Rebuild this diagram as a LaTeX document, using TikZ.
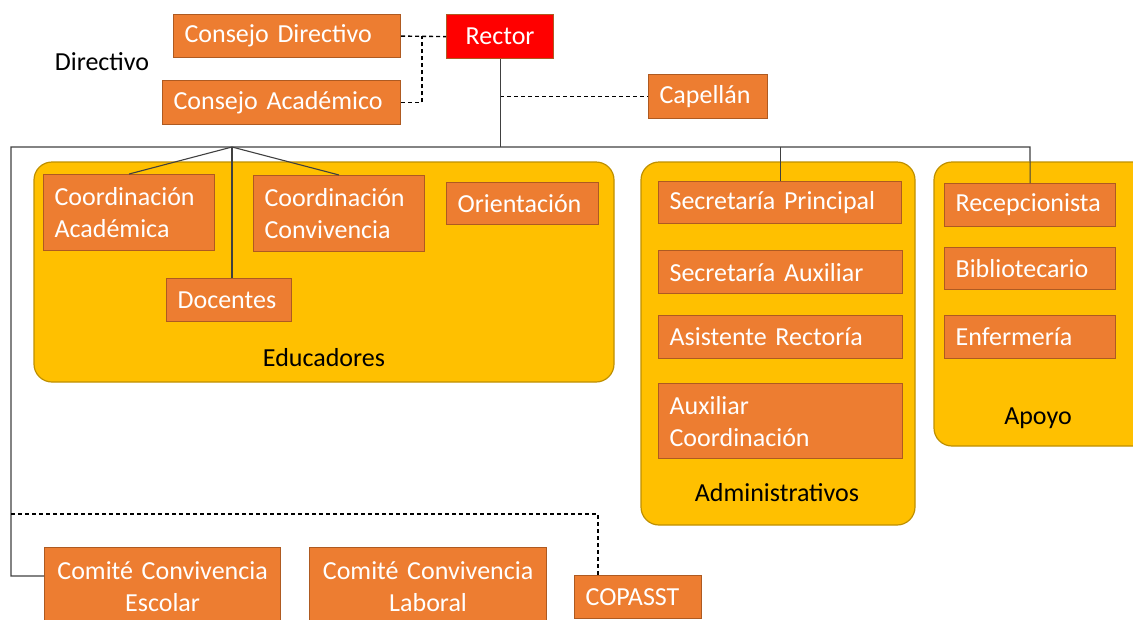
\documentclass[tikz,border=0pt]{standalone}
\usepackage{fontspec}
\setmainfont{Carlito}
\usetikzlibrary{positioning}
\definecolor{unitfill}{HTML}{ED7D31}
\definecolor{unitedge}{HTML}{AE5A21}
\definecolor{groupfill}{HTML}{FFC000}
\definecolor{groupedge}{HTML}{BF9000}
\definecolor{rectorfill}{HTML}{FF0000}
\definecolor{treeline}{HTML}{404040}

\begin{document}
\begin{tikzpicture}[x=1pt, y=-1pt,
    every node/.style={font=\fontsize{26}{32}\selectfont},
    unit/.style={draw=unitedge, fill=unitfill, text=white, line width=1.2pt,
      anchor=north west, inner xsep=11pt, inner ysep=0pt, align=left},
    group/.style={draw=groupedge, fill=groupfill, line width=1.2pt, rounded corners=18pt},
    tline/.style={treeline, line width=1.1pt},
    dline/.style={black, line width=1.4pt, dash pattern=on 4pt off 3pt}]
    \useasboundingbox (0,0) rectangle (1133,619);
    \clip (0,0) rectangle (1133,619);

    % Directivo row
    \node (directivo) at (102,62) {Directivo};
    \node[unit, text width=205pt, minimum height=43pt] (cdir) at (173,14) {Consejo Directivo};
    \node[unit, fill=rectorfill, align=center, text width=85pt, minimum height=44pt] (rector) at (446,14) {Rector};
    \node[unit, text width=216pt, minimum height=44pt] (cacad) at (162,80) {Consejo Académico};
    \node[unit, text width=97pt, minimum height=44pt] (capellan) at (648,74) {Capellán};

    % Group backgrounds
    \draw[group] (34,162) rectangle (614,382);
    \node (educ) at (324,358) {Educadores};
    \draw[group] (641,162) rectangle (915,525);
    \node (admin) at (777,493) {Administrativos};
    \draw[group] (934,162) rectangle (1160,446);
    \node (apoyo) at (1038,418) {Apoyo};

    % Educadores
    \node[unit, text width=149pt, minimum height=76pt] (coacad) at (43,174) {Coordinación\\Académica};
    \node[unit, text width=149pt, minimum height=76pt] (coconv) at (253,175) {Coordinación\\Convivencia};
    \node[unit, text width=130pt, minimum height=42pt] (orient) at (446,182) {Orientación};
    \node[unit, text width=103pt, minimum height=43pt] (docentes) at (166,278) {Docentes};

    % Administrativos
    \node[unit, text width=221pt, minimum height=42pt] (secprin) at (658,181) {Secretaría Principal};
    \node[unit, text width=222pt, minimum height=43pt] (secaux) at (658,250) {Secretaría Auxiliar};
    \node[unit, text width=222pt, minimum height=43pt] (asist) at (658,315) {Asistente Rectoría};
    \node[unit, text width=222pt, minimum height=75pt] (auxcoord) at (658,383) {Auxiliar\\Coordinación};

    % Apoyo
    \node[unit, text width=149pt, minimum height=43pt] (recep) at (944,183) {Recepcionista};
    \node[unit, text width=149pt, minimum height=42pt] (biblio) at (944,247) {Bibliotecario};
    \node[unit, text width=149pt, minimum height=43pt] (enferm) at (944,315) {Enfermería};

    % Comites
    \node[unit, align=center, text width=214pt, minimum height=78pt] (comesc) at (44,547) {Comité Convivencia\\Escolar};
    \node[unit, align=center, text width=215pt, minimum height=78pt] (comlab) at (309,547) {Comité Convivencia\\Laboral};
    \node[unit, text width=105pt, minimum height=43pt] (copasst) at (574,575) {COPASST};

    % Connectors
    \coordinate (cjoin) at (422,36);
    \coordinate (busL) at (11,147);
    \coordinate (busR) at (1030,147);
    \coordinate (branch) at (232,147);
    \coordinate (comdash) at (11,514);

    \draw[dline] (cdir.east) -- (rector.west);
    \draw[dline] (cacad.east) -| (cjoin);
    \draw[dline] (rector.south |- capellan.west) -- (capellan.west);
    \draw[tline] (rector.south) -- (rector.south |- busL);
    \draw[tline] ([yshift=-29pt]comesc.north west) -| (busL) -- (busR) -- (recep.north);
    \draw[tline] (secprin.north |- busL) -- (secprin.north);
    \draw[tline] (branch) -- (coacad.north);
    \draw[tline] (branch) -- (coconv.north);
    \draw[tline] (branch) -- (branch |- docentes.north);
    \draw[dline] (comdash) -| ([xshift=24pt]copasst.north west);
\end{tikzpicture}
\end{document}
